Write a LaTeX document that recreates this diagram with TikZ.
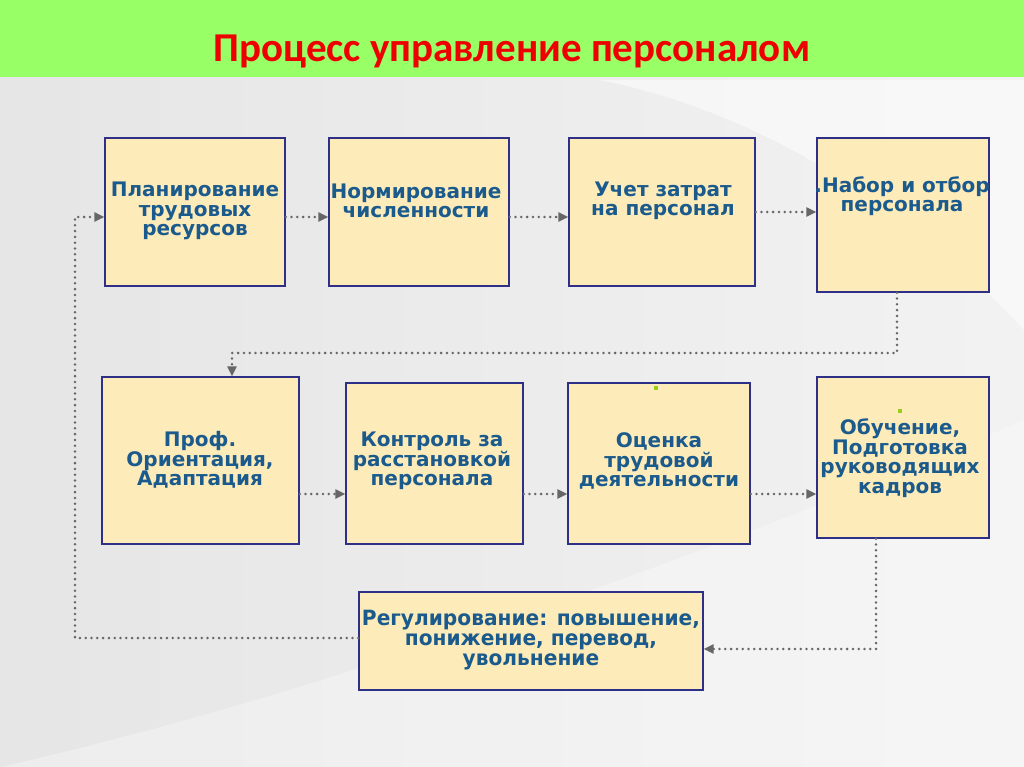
\documentclass[tikz,border=0pt]{standalone}
\usepackage{fontspec}
\setmainfont{DejaVu Sans}
\newfontfamily\condfont[FakeStretch=0.96]{DejaVu Sans}
\newfontfamily\titlefont{Carlito}
\usetikzlibrary{arrows.meta}
\definecolor{bargreen}{HTML}{99FF66}
\definecolor{boxfill}{HTML}{FDEBB9}
\definecolor{boxline}{HTML}{2E2F86}
\definecolor{txtblue}{HTML}{1A5A8C}
\definecolor{dotgrey}{HTML}{666666}
\definecolor{dotgreen}{HTML}{9ACD1A}
\definecolor{titlered}{HTML}{EE0000}
\begin{document}
\begin{tikzpicture}[x=1pt,y=-1pt,
  procbox/.style={draw=boxline,line width=1.4pt,fill=boxfill,inner sep=0pt},
  boxtext/.style={text=txtblue,align=center,inner sep=0pt,font=\fontsize{20}{19.5}\selectfont\bfseries},
  flow/.style={draw=dotgrey,line width=2.8pt,line cap=round,dash pattern=on 0pt off 5.8pt},
  tip/.style={-{Triangle[length=10pt,width=9pt,fill=dotgrey,color=dotgrey]}},
  greendot/.style={fill=dotgreen,minimum size=3.5pt,inner sep=0pt}]
\useasboundingbox (0,0) rectangle (1024,767);
% background
\shade[left color=black!10,right color=black!5] (0,0) rectangle (1024,767);
\fill[white,opacity=0.5] (600,80) .. controls (800,120) and (950,250) .. (1024,330) -- (1024,80) -- cycle;
\fill[white,opacity=0.3] (0,767) .. controls (300,700) and (700,560) .. (1024,420) -- (1024,767) -- cycle;
\fill[bargreen] (0,0) rectangle (1024,77);
\node[text=titlered,font=\titlefont\fontsize{41}{44}\selectfont\bfseries,inner sep=0pt] (title) at (512,52) {Процесс управление персоналом};
% boxes
\node[procbox,minimum width=180pt,minimum height=148pt] (b1) at (195,212) {};
\node[procbox,minimum width=180pt,minimum height=148pt] (b2) at (419,212) {};
\node[procbox,minimum width=186pt,minimum height=148pt] (b3) at (662,212) {};
\node[procbox,minimum width=172pt,minimum height=154pt] (b4) at (903,215) {};
\node[procbox,minimum width=197pt,minimum height=167pt] (b5) at (200.5,460.5) {};
\node[procbox,minimum width=177pt,minimum height=161pt] (b6) at (434.5,463.5) {};
\node[procbox,minimum width=182pt,minimum height=161pt] (b7) at (659,463.5) {};
\node[procbox,minimum width=172pt,minimum height=161pt] (b8) at (903,457.5) {};
\node[procbox,minimum width=344pt,minimum height=98pt] (b9) at (531,641) {};
% texts
\node[boxtext] (t1) at (195,211) {Планирование\\трудовых\\ресурсов};
\node[boxtext] (t2) at (416,201) {Нормирование\\численности};
\node[boxtext] (t3) at (663,201) {Учет затрат\\на персонал};
\node[boxtext] (t4) at (902,196) {.Набор и отбор\\персонала};
\node[boxtext] (t5) at (200,460) {Проф.\\Ориентация,\\Адаптация};
\node[boxtext] (t6) at (432,461) {Контроль за\\расстановкой\\персонала};
\node[boxtext] (t7) at (659,461) {Оценка\\трудовой\\деятельности};
\node[boxtext] (t8) at (900,458) {Обучение,\\Подготовка\\руководящих\\кадров};
\node[boxtext,font=\condfont\fontsize{21}{20}\selectfont\bfseries] (t9) at (531,640) {Регулирование: повышение,\\понижение, перевод,\\увольнение};
\node[greendot] (g7) at (656,388) {};
\node[greendot] (g8) at (900,411) {};
% connectors
\coordinate (c1) at (75,638);
\coordinate (c2) at (75,217);
\coordinate (c3) at (897,353);
\coordinate (c4) at (232,353);
\coordinate (c5) at (876,649);
\draw[flow,tip] (b1.east |- 0,217) -- (b2.west |- 0,217);
\draw[flow,tip] (b2.east |- 0,217) -- (b3.west |- 0,217);
\draw[flow,tip] (b3.east |- 0,212) -- (b4.west |- 0,212);
\draw[flow,tip] (b4.south -| c3) -- (c3) -- (c4) -- (b5.north -| c4);
\draw[flow,tip] (b5.east |- 0,494) -- (b6.west |- 0,494);
\draw[flow,tip] (b6.east |- 0,494) -- (b7.west |- 0,494);
\draw[flow,tip] (b7.east |- 0,494) -- (b8.west |- 0,494);
\draw[flow,tip] (b8.south -| c5) -- (c5) -- (b9.east |- c5);
\draw[flow,tip] (b9.west |- c1) -- (c1) -- (c2) -- (b1.west |- c2);
\end{tikzpicture}
\end{document}
